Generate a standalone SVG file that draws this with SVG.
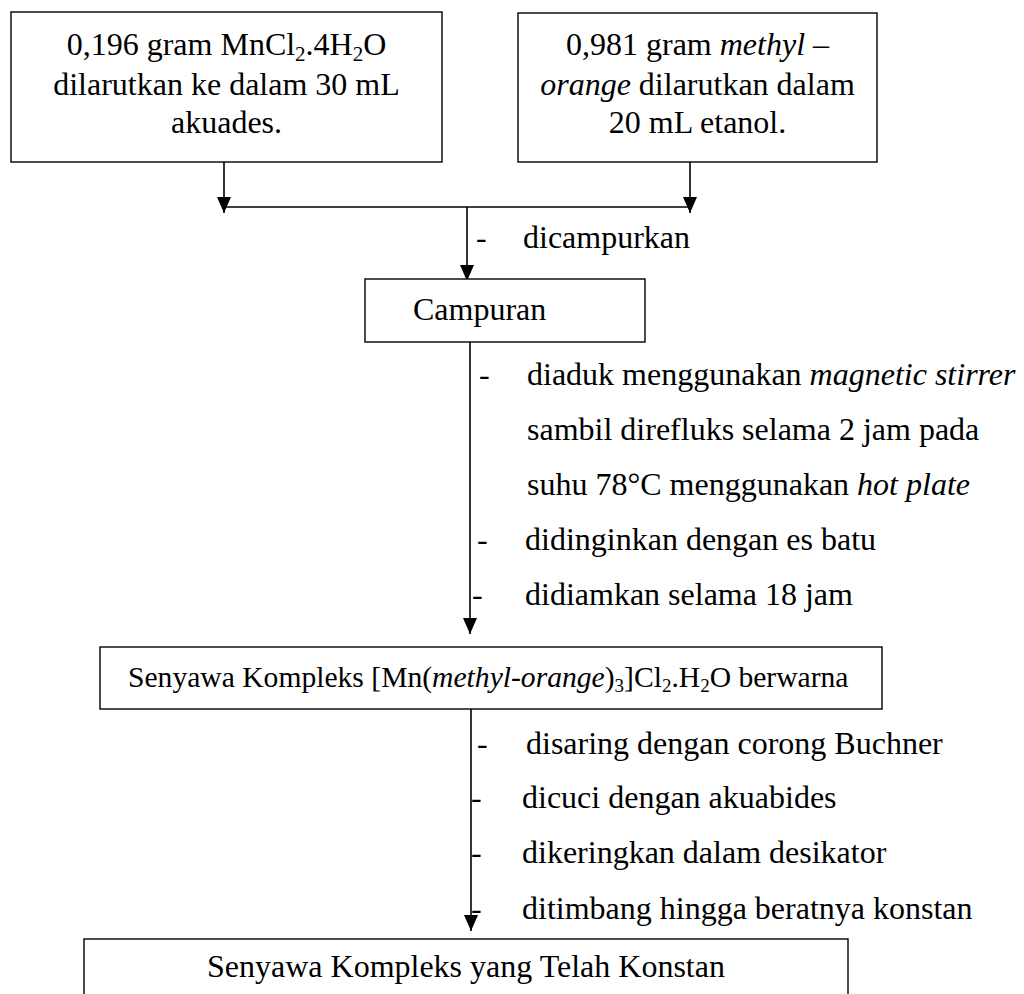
<svg xmlns="http://www.w3.org/2000/svg" width="1024" height="994" viewBox="0 0 1024 994">
<defs>
<style>
text{font-family:"Liberation Serif","Times New Roman",serif;font-size:32px;fill:#000}
.c{text-anchor:middle}
.i{font-style:italic}
.box{fill:#fff;stroke:#000;stroke-width:1.4}
.ln{fill:none;stroke:#000;stroke-width:1.6}
.sm{font-size:29.6px}
</style>
<marker id="ah" markerUnits="userSpaceOnUse" viewBox="0 0 16 14" refX="16" refY="7" markerWidth="16" markerHeight="14" orient="auto">
<path d="M0,0 L16,7 L0,14 z" fill="#000"/>
</marker>
</defs>
<rect width="1024" height="994" fill="#fff"/>

<g id="connectors">
<line class="ln" x1="224" y1="162" x2="224" y2="213" marker-end="url(#ah)"/>
<line class="ln" x1="690" y1="162" x2="690" y2="213" marker-end="url(#ah)"/>
<line class="ln" x1="224" y1="207" x2="690" y2="207"/>
<line class="ln" x1="467" y1="207" x2="467" y2="281" marker-end="url(#ah)"/>
<line class="ln" x1="470" y1="342" x2="470" y2="634" marker-end="url(#ah)"/>
<line class="ln" x1="471" y1="709" x2="471" y2="931" marker-end="url(#ah)"/>
</g>

<g id="n1">
<rect class="box" x="11" y="12" width="431" height="150"/>
<text class="c" x="226.5" y="55">0,196 gram MnCl<tspan font-size="21" dy="6">2</tspan><tspan dy="-6">.4H</tspan><tspan font-size="21" dy="6">2</tspan><tspan dy="-6">O</tspan></text>
<text class="c" x="226.5" y="95">dilarutkan ke dalam 30 mL</text>
<text class="c" x="226.5" y="133">akuades.</text>
</g>

<g id="n2">
<rect class="box" x="518" y="13" width="359" height="149"/>
<text class="c" x="697.5" y="55">0,981 gram <tspan class="i">methyl</tspan> –</text>
<text class="c" x="697.5" y="95"><tspan class="i">orange</tspan> dilarutkan dalam</text>
<text class="c" x="697.5" y="133">20 mL etanol.</text>
</g>

<g id="l1">
<text x="476" y="248">-</text>
<text x="523" y="248">dicampurkan</text>
</g>

<g id="n3">
<rect class="box" x="365" y="279" width="280" height="63"/>
<text x="413" y="320">Campuran</text>
</g>

<g id="l2">
<text x="479" y="385">-</text>
<text x="527" y="385">diaduk menggunakan <tspan class="i">magnetic stirrer</tspan></text>
<text x="527" y="440">sambil direfluks selama 2 jam pada</text>
<text x="527" y="495">suhu 78°C menggunakan <tspan class="i">hot plate</tspan></text>
<text x="477" y="550">-</text>
<text x="525" y="550">didinginkan dengan es batu</text>
<text x="472" y="605">-</text>
<text x="525" y="605">didiamkan selama 18 jam</text>
</g>

<g id="n4">
<rect class="box" x="100" y="647" width="782" height="62"/>
<text class="sm" x="128" y="687">Senyawa Kompleks [Mn(<tspan class="i">methyl-orange</tspan>)<tspan font-size="19" dy="5">3</tspan><tspan dy="-5">]Cl</tspan><tspan font-size="19" dy="5">2</tspan><tspan dy="-5">.H</tspan><tspan font-size="19" dy="5">2</tspan><tspan dy="-5">O berwarna</tspan></text>
</g>

<g id="l3">
<text x="477" y="754">-</text>
<text x="526" y="754">disaring dengan corong Buchner</text>
<text x="471" y="808">-</text>
<text x="522" y="808">dicuci dengan akuabides</text>
<text x="471" y="863">-</text>
<text x="522" y="863">dikeringkan dalam desikator</text>
<text x="471" y="919">-</text>
<text x="522" y="919">ditimbang hingga beratnya konstan</text>
</g>

<g id="n5">
<rect class="box" x="84" y="939" width="764" height="80"/>
<text x="207" y="977">Senyawa Kompleks yang Telah Konstan</text>
</g>
</svg>
